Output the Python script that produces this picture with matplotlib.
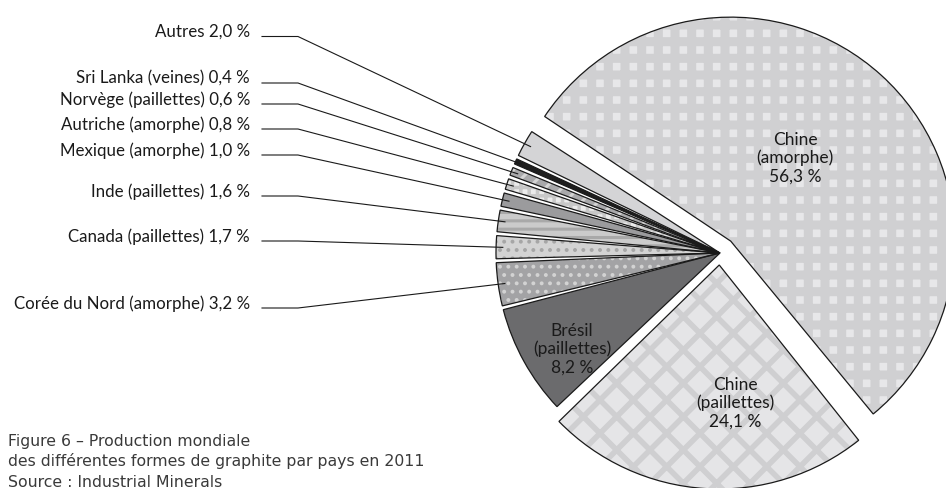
import numpy as np
import matplotlib.pyplot as plt

W, H = 946, 489

# données (ordre du camembert, sens trigo à partir de Chine amorphe)
categories = ["Chine (amorphe)", "Autres", "Sri Lanka (veines)", "Norvège (paillettes)",
              "Autriche (amorphe)", "Mexique (amorphe)", "Inde (paillettes)",
              "Canada (paillettes)", "Corée du Nord (amorphe)", "Brésil (paillettes)",
              "Chine (paillettes)"]
shares = [56.3, 2.0, 0.4, 0.6, 0.8, 1.0, 1.6, 1.7, 3.2, 8.2, 24.1]

# style de chaque part
face = ["#e7e7e9", "#d4d4d6", "#1e1e1e", "#a9a9ab", "#ebebeb", "#9b9b9d",
        "#cbcbcb", "#d3d3d3", "#a3a3a5", "#6b6b6d", "#e5e5e7"]
hatch = ["+", None, None, "//", "++", None, "--", "..", "..", None, "x"]
hatch_col = ["#d0d0d2", "#d4d4d6", "#1e1e1e", "#d4d4d4", "#c8c8c8", "#9b9b9d",
             "#a9a9a9", "#a6a6a6", "#d3d3d3", "#6b6b6d", "#cfcfd1"]
hatch_lw = [6.5, 1, 1, 2.2, 2.5, 1, 2.2, 1.6, 1.6, 1, 4.0]
explode = [16, 0, 0, 0, 0, 0, 0, 0, 0, 0, 12]

CENTER = (720, H - 254)
R = 224
START = -50.5
GAP = 1.0

fig = plt.figure(figsize=(W / 100, H / 100), dpi=100)
ax = fig.add_axes([0, 0, 1, 1])


def draw_pie(**kw):
    wedges, _ = ax.pie(shares, startangle=START, center=CENTER, radius=R, **kw)
    n = len(wedges)
    scale = (360 - n * GAP) / 360
    for i, w in enumerate(wedges):
        # petit écart blanc entre les parts
        t1 = START + (w.theta1 - START) * scale + i * GAP
        t2 = START + (w.theta2 - START) * scale + i * GAP
        m = np.radians((t1 + t2) / 2)
        w.set_center((CENTER[0] + explode[i] * np.cos(m),
                      CENTER[1] + explode[i] * np.sin(m)))
        w.set_theta1(t1)
        w.set_theta2(t2)
    return wedges


def set_hatch_lw(patch, lw):
    # épaisseur de hachure propre à chaque part
    if hasattr(patch, "set_hatch_linewidth"):
        patch.set_hatch_linewidth(lw)
    draw = patch.draw

    def wrapped(renderer):
        with plt.rc_context({"hatch.linewidth": lw}):
            draw(renderer)
    patch.draw = wrapped


fills = draw_pie(wedgeprops=dict(linewidth=0))
for i, w in enumerate(fills):
    w.set_facecolor(face[i])
    w.set_edgecolor(hatch_col[i])
    w.set_linewidth(0)
    if hatch[i]:
        w.set_hatch(hatch[i])
        set_hatch_lw(w, hatch_lw[i])

outlines = draw_pie(wedgeprops=dict(facecolor="none", edgecolor="#1a1a1a", linewidth=0.9))

# étiquettes à gauche avec lignes de rappel
label_y = [37.5, 84, 105, 130, 156, 197, 242, 309]
for k, yl in enumerate(label_y):
    i = k + 1
    w = outlines[i]
    m = np.radians((w.theta1 + w.theta2) / 2)
    cx, cy = w.center
    ex, ey = cx + 0.97 * R * np.cos(m), cy + 0.97 * R * np.sin(m)
    ax.plot([262, 298, ex], [H - yl, H - yl, ey], color="#1a1a1a", lw=0.8)
    txt = f"{categories[i]} {shares[i]:.1f}".replace(".", ",") + " %"
    ax.text(250, H - yl + 5.5, txt, ha="right", va="center", fontsize=12.2,
            family="Lato", color="#1a1a1a")

# étiquettes dans les grandes parts
big = {0: (795, 158), 9: (572, 349), 10: (735, 403)}
for i, (x, y) in big.items():
    name, kind = categories[i].split(" ", 1)
    txt = f"{name}\n{kind}\n{shares[i]:.1f}".replace(".", ",") + " %"
    ax.text(x, H - y, txt, ha="center", va="center", fontsize=12.5, family="Lato",
            color="#1a1a1a", linespacing=1.15, multialignment="center")

caption = ["Figure 6 – Production mondiale",
           "des différentes formes de graphite par pays en 2011",
           "Source : Industrial Minerals"]
for k, line in enumerate(caption):
    ax.text(8, H - (446 + 20.5 * k), line, ha="left", va="baseline", fontsize=11.3,
            family="DejaVu Sans", color="#3a3a3a")

ax.set_xlim(0, W)
ax.set_ylim(0, H)
ax.set_aspect("equal")
ax.axis("off")

fig.savefig("out.png", dpi=100)
